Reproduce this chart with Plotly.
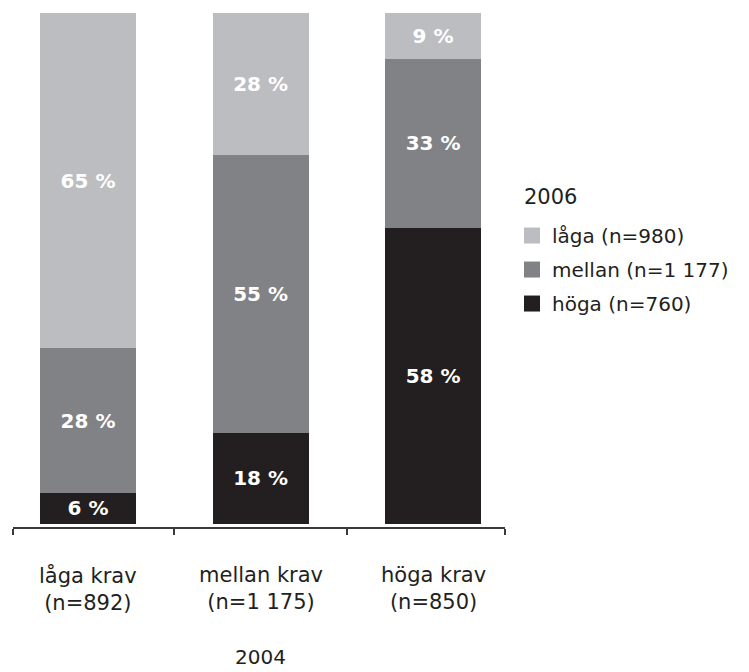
import plotly.graph_objects as go

# Job demands in 2004 (columns) and how they were rated in 2006 (stacked shares)
categories = ["låga krav", "mellan krav", "höga krav"]
category_n = ["892", "1 175", "850"]

series_names = ["höga", "mellan", "låga"]          # bottom to top
series_n = {"höga": "760", "mellan": "1 177", "låga": "980"}
values = {
    "höga":   [6, 18, 58],
    "mellan": [28, 55, 33],
    "låga":   [65, 28, 9],
}
colors = {"höga": "#231f20", "mellan": "#808285", "låga": "#bcbdc1"}

FONT = "DejaVu Sans"
TEXT_COLOR = "#231f20"
AXIS_COLOR = "#3a3a3a"
TEXT_SIZE = 21

x_pos = list(range(len(categories)))
x_lo, x_hi = -0.435, 2.417

fig = go.Figure()

for name in series_names:
    fig.add_trace(go.Bar(
        x=x_pos,
        y=values[name],
        width=0.557,
        marker=dict(color=colors[name], line=dict(width=0)),
        text=[f"{v} %" for v in values[name]],
        textposition="inside",
        insidetextanchor="middle",
        textangle=0,
        textfont=dict(family=FONT, size=20, color="white", weight="bold"),
        showlegend=False,
        hoverinfo="skip",
    ))

# legend entries, listed top-down as in the stack
for name in reversed(series_names):
    fig.add_trace(go.Scatter(
        x=[None], y=[None],
        mode="markers",
        marker=dict(symbol="square", size=16, color=colors[name]),
        name=f"{name} (n={series_n[name]})",
        legendgroup=name,
        showlegend=True,
    ))

annotations = []
for i, (cat, n) in enumerate(zip(categories, category_n)):
    annotations.append(dict(
        x=i, y=0, xref="x", yref="paper",
        text=f"{cat}<br>(n={n})",
        showarrow=False, yanchor="top", yshift=-34,
        font=dict(family=FONT, size=TEXT_SIZE, color=TEXT_COLOR),
        align="center",
    ))
# x-axis title
annotations.append(dict(
    x=1, y=0, xref="x", yref="paper",
    text="2004", showarrow=False, yanchor="bottom", yshift=-144,
    font=dict(family=FONT, size=20, color=TEXT_COLOR),
))
# legend heading
annotations.append(dict(
    x=1.0346, y=0.642, xref="paper", yref="paper",
    text="2006", showarrow=False, xanchor="left", yanchor="middle",
    font=dict(family=FONT, size=TEXT_SIZE, color=TEXT_COLOR),
))

fig.update_layout(
    width=749, height=672,
    margin=dict(l=13, r=244, t=13, b=145),
    paper_bgcolor="white", plot_bgcolor="white",
    barmode="stack", barnorm="percent",
    font=dict(family=FONT, size=TEXT_SIZE, color=TEXT_COLOR),
    xaxis=dict(
        range=[x_lo, x_hi],
        tickvals=[x_lo, 0.5, 1.5, x_hi],
        showticklabels=False,
        ticks="outside", ticklen=6, tickwidth=2, tickcolor=AXIS_COLOR,
        showline=True, linewidth=2, linecolor=AXIS_COLOR,
        showgrid=False, zeroline=False, fixedrange=True,
    ),
    yaxis=dict(
        range=[-0.6, 100],
        visible=False, showgrid=False, zeroline=False, fixedrange=True,
    ),
    legend=dict(
        x=1.0142, y=0.605, xanchor="left", yanchor="top",
        font=dict(family=FONT, size=20, color=TEXT_COLOR),
        traceorder="grouped",
        tracegroupgap=5,
        bgcolor="rgba(0,0,0,0)",
    ),
    annotations=annotations,
)

fig.write_html("out.html")
